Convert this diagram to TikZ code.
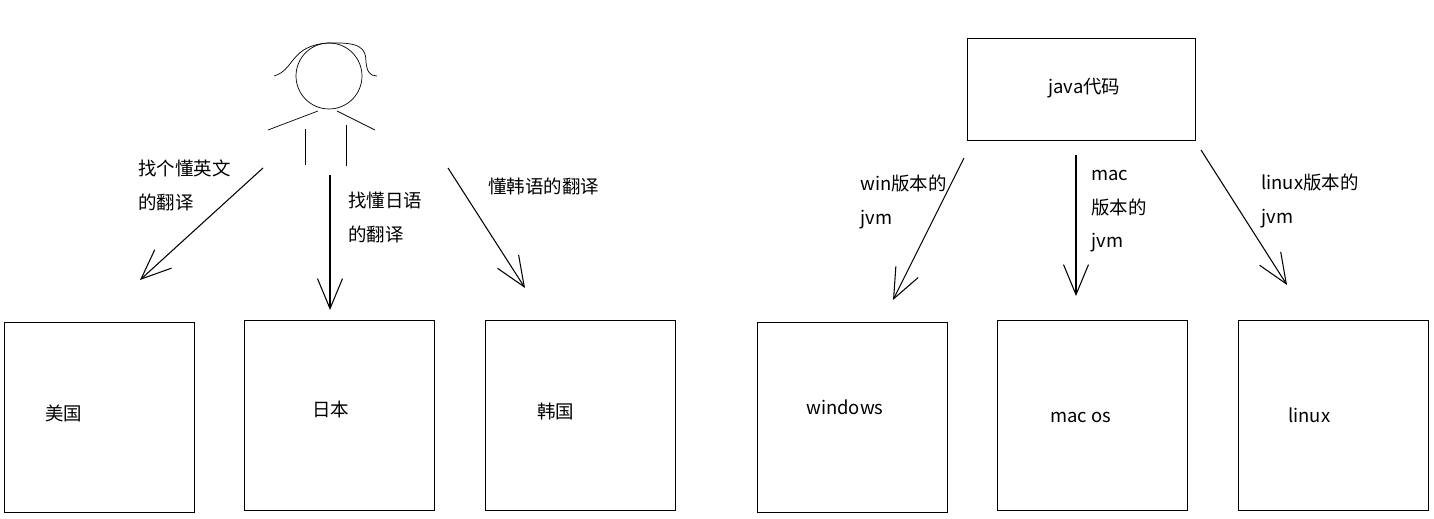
\documentclass[tikz,border=0pt]{standalone}
\usepackage{fontspec}
\setmainfont{Noto Sans CJK SC}
\usetikzlibrary{arrows.meta}
\begin{document}
\begin{tikzpicture}[x=0.02cm,y=-0.02cm]

\tikzstyle{box}=[draw, minimum width=3.8cm, minimum height=3.8cm, inner sep=0pt]
\tikzstyle{lbl}=[anchor=west, inner sep=0pt, font=\fontsize{10.5}{12}\selectfont, align=left]
\tikzstyle{arr}=[-{Straight Barb[length=0.6cm,width=0.5cm]}, line width=0.6pt]

\useasboundingbox (0,0) rectangle (1434,519);

% left: translators
\node[box] (usa) at (99.5,417) {};
\node[box] (jp) at (339.5,415) {};
\node[box] (kr) at (580,415) {};
\node[lbl] (usaT) at (45,413) {美国};
\node[lbl] (jpT) at (312,410) {日本};
\node[lbl] (krT) at (537,412) {韩国};

% stick figure
\node[circle, draw, minimum size=1.32cm, inner sep=0pt] (head) at (329,76) {};
\draw (274,76) .. controls (295,70) and (290,45) .. (329,43);
\draw (329,43) .. controls (360,42) and (366,48) .. (366,62) .. controls (367,72) and (370,76) .. (377,76);
\draw (268,130) -- (318,111);
\draw (337,111) -- (375,130);
\draw (305,129) -- (305,165);
\draw (346,125) -- (346,166);

\coordinate (s1) at (263,168);
\coordinate (e1) at (140,280);
\coordinate (s2) at (330,175);
\coordinate (e2) at (330,310);
\coordinate (s3) at (448,168);
\coordinate (e3) at (525,288);

% right: jvm
\node[draw, minimum width=4.56cm, minimum height=2.04cm, inner sep=0pt] (java) at (1081,89) {};
\node[lbl] (javaT) at (1048,88) {java代码};
\node[box] (win) at (852,417) {};
\node[box] (mac) at (1092,415) {};
\node[box] (lin) at (1333,415) {};
\node[lbl] (winT) at (806,407) {windows};
\node[lbl] (macT) at (1050,417) {mac os};
\node[lbl] (linT) at (1288,415) {linux};

\coordinate (s4) at (964,158);
\coordinate (e4) at (893,300);
\coordinate (s5) at (1076,155);
\coordinate (e5) at (1076,296);
\coordinate (s6) at (1201,150);
\coordinate (e6) at (1287,285);

\foreach \i in {1,...,6}{\draw[arr] (s\i) -- (e\i);}

\node[lbl, anchor=north west] (t1) at (138,160) {找个懂英文\\[0.25cm]的翻译};
\node[lbl, anchor=north west] (t2) at (348,192) {找懂日语\\[0.25cm]的翻译};
\node[lbl, anchor=north west] (t3) at (488,178) {懂韩语的翻译};
\node[lbl, anchor=north west] (t4) at (860,175) {win版本的\\[0.25cm]jvm};
\node[lbl, anchor=north west] (t5) at (1091,170) {mac\\[0.25cm]版本的\\[0.25cm]jvm};
\node[lbl, anchor=north west] (t6) at (1261,174) {linux版本的\\[0.25cm]jvm};

\end{tikzpicture}
\end{document}
